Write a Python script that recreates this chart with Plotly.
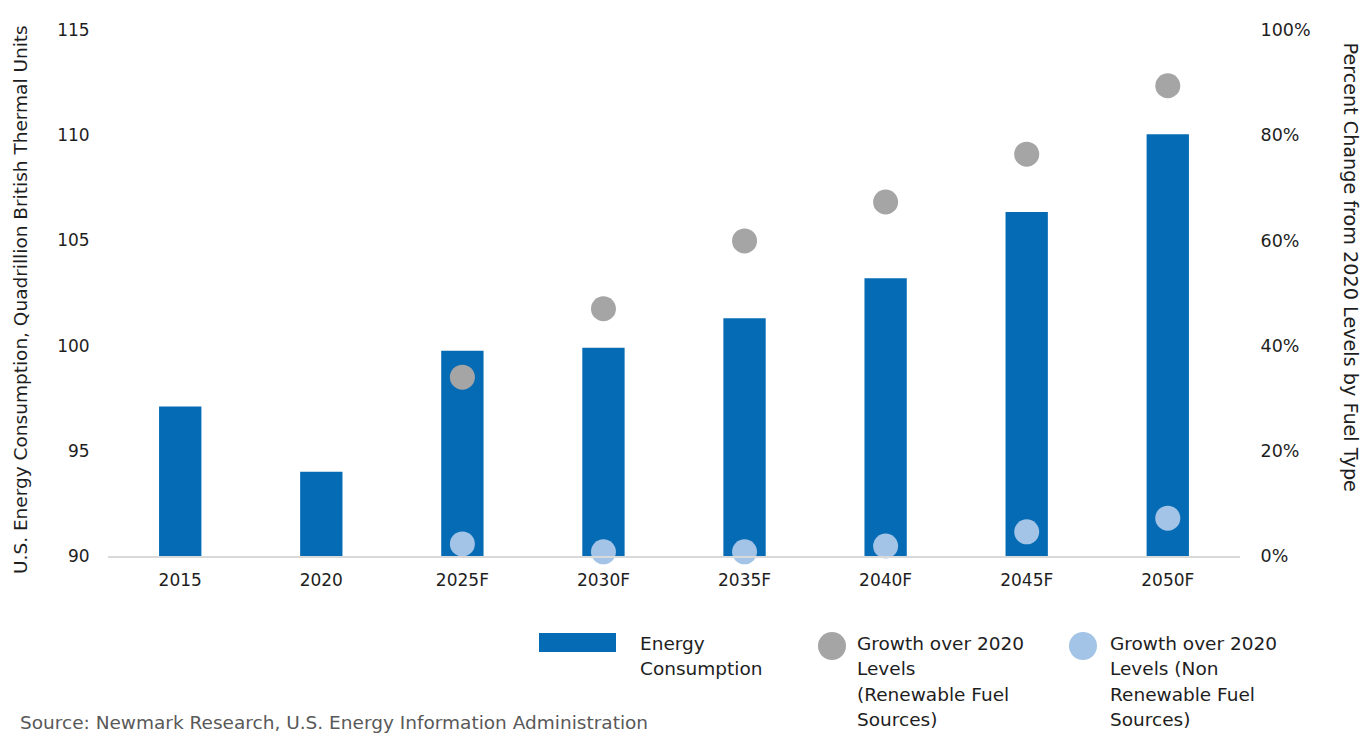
import plotly.graph_objects as go

categories = ["2015", "2020", "2025F", "2030F", "2035F", "2040F", "2045F", "2050F"]
energy_consumption = [97.1, 94.0, 99.75, 99.9, 101.3, 103.2, 106.35, 110.05]
renewable_growth = [None, None, 34.0, 47.0, 59.9, 67.3, 76.4, 89.4]
nonrenewable_growth = [None, None, 2.3, 0.8, 0.8, 1.9, 4.6, 7.2]
left_ticks = [90, 95, 100, 105, 110, 115]
right_ticks = [0, 20, 40, 60, 80, 100]
right_tick_labels = ["0%", "20%", "40%", "60%", "80%", "100%"]

BLUE = "#056BB5"
GRAY = "#A5A5A5"
LIGHT = "#A3C4E6"
TXT = "#1E1E1E"
FONT = "DejaVu Sans"
TICK = 17
BIG = 18.5

fig = go.Figure()
fig.add_trace(go.Bar(x=categories, y=energy_consumption, width=0.3,
                     marker=dict(color=BLUE, line=dict(width=0)),
                     name="Energy Consumption", yaxis="y"))
fig.add_trace(go.Scatter(x=categories, y=renewable_growth, mode="markers",
                         marker=dict(color=GRAY, size=25, line=dict(width=0)),
                         name="Renewable", yaxis="y2", cliponaxis=False))
fig.add_trace(go.Scatter(x=categories, y=nonrenewable_growth, mode="markers",
                         marker=dict(color=LIGHT, size=25, line=dict(width=0)),
                         name="Non Renewable", yaxis="y2", cliponaxis=False))

H = 735
L, R = 108, 126
T, B = 30, 179
ph = H - T - B
pw = 1366 - L - R


def py(px):
    return 1 - (px - T) / ph


def px_x(px):
    return (px - L) / pw


fig.update_layout(
    width=1366, height=H,
    margin=dict(l=L, r=R, t=T, b=B),
    paper_bgcolor="white", plot_bgcolor="white",
    showlegend=False,
    font=dict(family=FONT, size=TICK, color=TXT),
    xaxis=dict(type="category", showgrid=False, showline=True, linecolor="#D9D9D9",
               linewidth=2, ticks="outside", ticklen=8, tickcolor="rgba(0,0,0,0)",
               tickfont=dict(size=TICK, color=TXT), zeroline=False),
    yaxis=dict(range=[90, 115], tickvals=left_ticks, showgrid=False, zeroline=False,
               showline=False, ticks="outside", ticklen=14, tickcolor="rgba(0,0,0,0)",
               tickfont=dict(size=TICK, color=TXT)),
    yaxis2=dict(range=[0, 100], tickvals=right_ticks, ticktext=right_tick_labels,
                overlaying="y", side="right", showgrid=False, zeroline=False, showline=False,
                ticks="outside", ticklen=16, tickcolor="rgba(0,0,0,0)",
                tickfont=dict(size=TICK + 0.5, color=TXT)),
)

annotations = [
    dict(text="U.S. Energy Consumption, Quadrillion British Thermal Units", textangle=-90,
         xref="paper", yref="paper", x=px_x(20), y=py(300), xanchor="center", yanchor="middle",
         showarrow=False, font=dict(size=BIG, color=TXT)),
    dict(text="Percent Change from 2020 Levels by Fuel Type", textangle=90,
         xref="paper", yref="paper", x=px_x(1350), y=py(40), xanchor="center", yanchor="top",
         showarrow=False, font=dict(size=19.2, color=TXT)),
    dict(text="Source: Newmark Research, U.S. Energy Information Administration", align="left",
         xref="paper", yref="paper", x=px_x(18), y=py(735), xanchor="left", yanchor="bottom",
         showarrow=False, font=dict(size=BIG, color="#595959")),
]

legend_cols = [
    (640, ["Energy", "Consumption"]),
    (857, ["Growth over 2020", "Levels", "(Renewable Fuel", "Sources)"]),
    (1110, ["Growth over 2020", "Levels (Non", "Renewable Fuel", "Sources)"]),
]
line_y = [643, 668.5, 694, 719.5]
for x0, lines in legend_cols:
    for i, t in enumerate(lines):
        annotations.append(dict(text=t, xref="paper", yref="paper", x=px_x(x0 - 2), y=py(line_y[i]),
                                xanchor="left", yanchor="middle", showarrow=False,
                                font=dict(size=BIG, color=TXT)))
fig.update_layout(annotations=annotations)

shapes = [
    dict(type="rect", xref="paper", yref="paper", x0=px_x(539), x1=px_x(616),
         y0=py(652), y1=py(633), fillcolor=BLUE, line=dict(width=0)),
    dict(type="circle", xref="paper", yref="paper", x0=px_x(818), x1=px_x(846),
         y0=py(660), y1=py(632), fillcolor=GRAY, line=dict(width=0)),
    dict(type="circle", xref="paper", yref="paper", x0=px_x(1069), x1=px_x(1097),
         y0=py(660), y1=py(632), fillcolor=LIGHT, line=dict(width=0)),
]
fig.update_layout(shapes=shapes)

fig.write_html("out.html")
